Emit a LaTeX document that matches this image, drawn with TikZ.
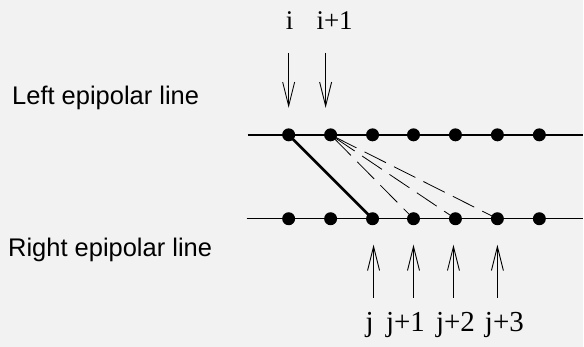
\documentclass[tikz,border=0pt]{standalone}
\usepackage{fontspec}
\setmainfont{Liberation Serif}
\newfontfamily\sidefont{Liberation Sans}
\usetikzlibrary{arrows.meta}
\begin{document}
\begin{tikzpicture}[x=1pt,y=-1pt,
  pointer/.style={-{Straight Barb[length=24pt,width=12pt]},line width=0.9pt},
  toplbl/.style={anchor=base,inner sep=0pt,font=\fontsize{27}{27}\selectfont},
  botlbl/.style={anchor=base,inner sep=0pt,font=\fontsize{29}{29}\selectfont},
  sidelbl/.style={anchor=base west,inner sep=0pt,font=\sidefont\fontsize{25.5}{26}\selectfont}]
  \fill[black!5] (0,0) rectangle (584,347);
  % the two epipolar lines
  \path (248,135) coordinate (L0) (584,135) coordinate (L1) (247,219) coordinate (R0) (584,219) coordinate (R1);
  \foreach \k/\x in {1/289,2/331,3/373,4/414,5/456,6/498,7/540} \path (\x,135) coordinate (t\k) (\x,219) coordinate (b\k);
  \draw[line width=1.4pt] (L0)--(L1);
  \draw[line width=1.4pt] (R0)--(R1);
  \draw[line width=2.6pt,shorten <=6pt] (t1)--(b3);
  \foreach \P in {b4,b5,b6} \draw[line width=0.8pt,dash pattern=on 24pt off 9pt,shorten <=5pt] (t2)--(\P);
  \foreach \k in {1,...,7} \fill (t\k) circle (6.5) (b\k) circle (6.5);
  % labels
  \path (12,105) node[sidelbl] (left) {Left epipolar line}
        (8,257) node[sidelbl] (right) {Right epipolar line};
  \path (290,30) node[toplbl] (i) {i} (335,30) node[toplbl] (i1) {i+1};
  \path (370,332) node[botlbl] (j) {j} (406,332) node[botlbl] (j1) {j+1}
        (456,332) node[botlbl] (j2) {j+2} (505,332) node[botlbl] (j3) {j+3};
  % arrows
  \path (289,53) coordinate (ai0) (289,108) coordinate (ai1) (326,53) coordinate (aii0) (326,108) coordinate (aii1);
  \draw[pointer] (ai0)--(ai1);
  \draw[pointer] (aii0)--(aii1);
  \foreach \k/\x in {0/374,1/414,2/454,3/498} {
    \path (\x,298) coordinate (aj\k) (\x,245) coordinate (ajt\k);
    \draw[pointer] (aj\k)--(ajt\k);
  }
\end{tikzpicture}
\end{document}
